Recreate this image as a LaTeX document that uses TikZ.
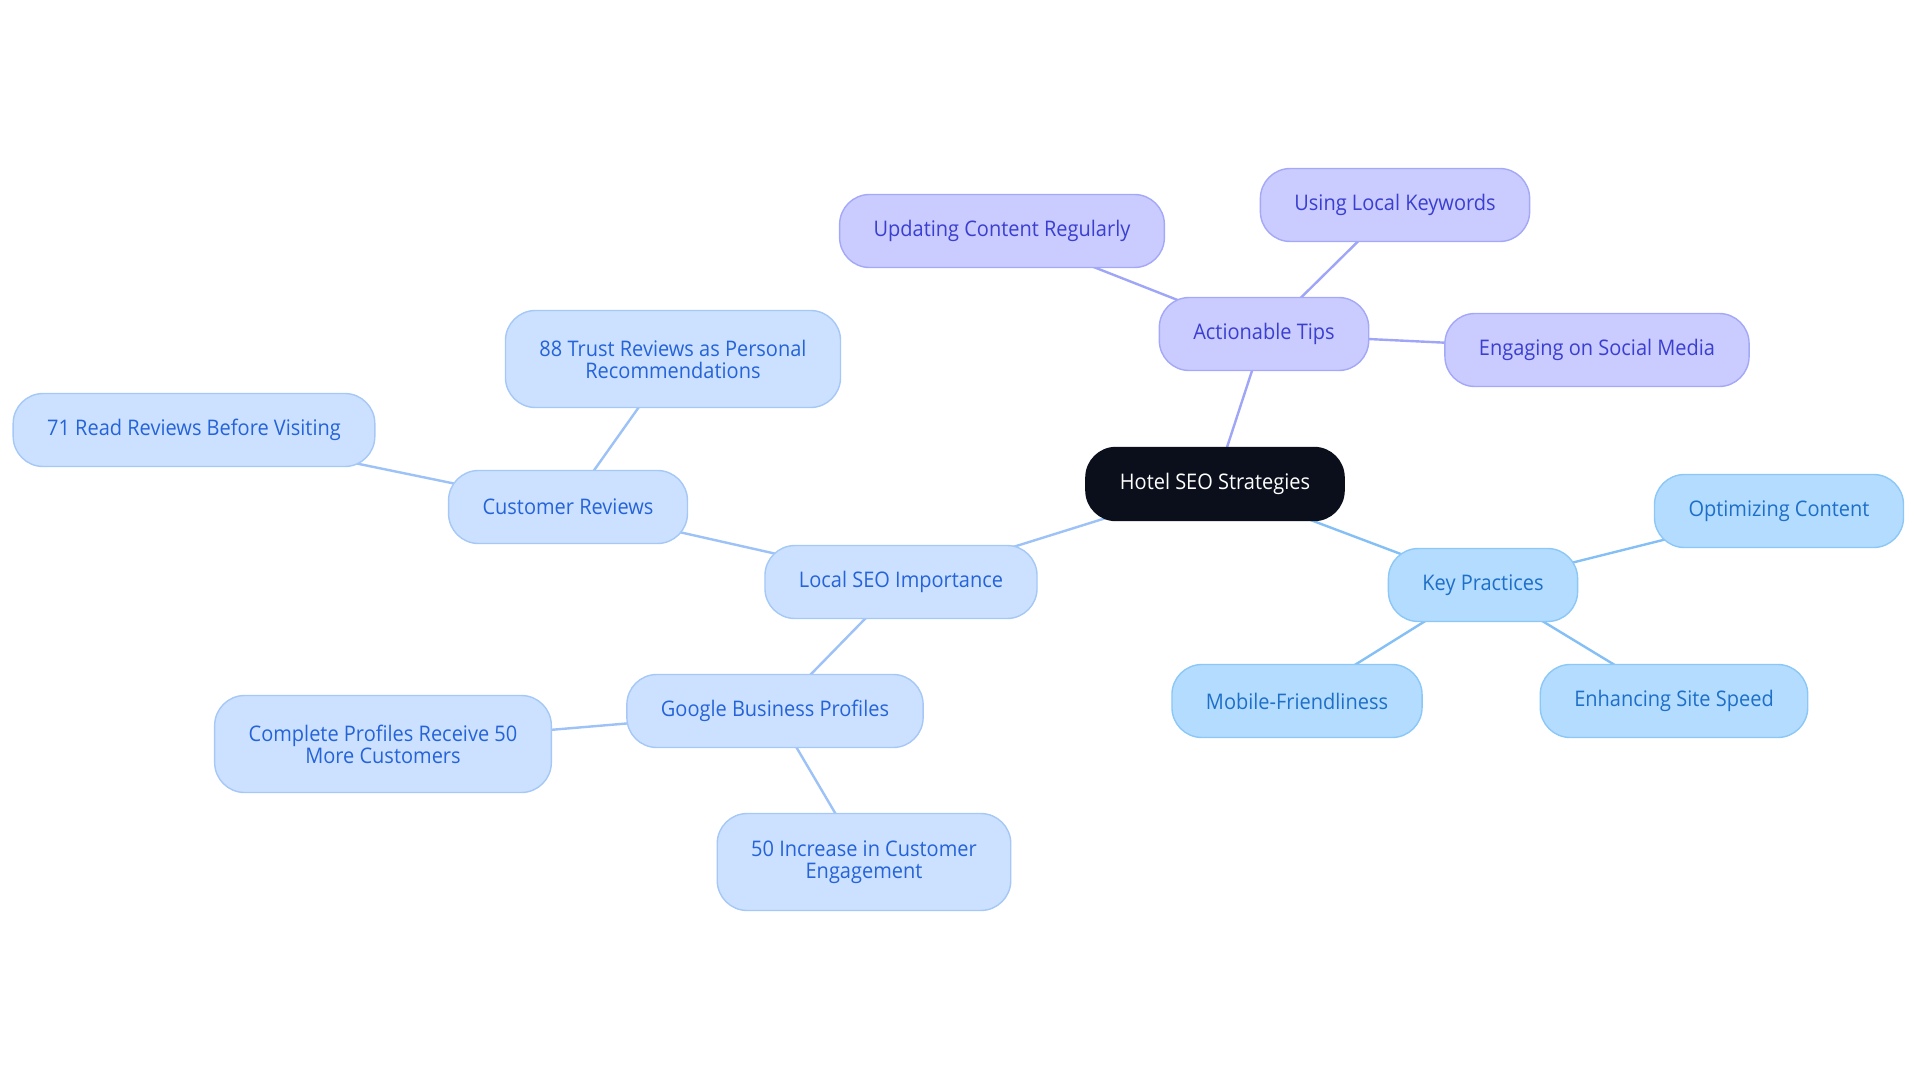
\documentclass[tikz,border=0pt]{standalone}
\usepackage{fontspec}
\setmainfont[FakeStretch=0.93]{Open Sans}
\pgfdeclarelayer{edges}
\pgfsetlayers{edges,main}
\begin{document}
\begin{tikzpicture}[x=1pt,y=-1pt,
  base/.style={rounded corners=30pt, line width=1.4pt, inner xsep=34pt, inner ysep=4pt,
    minimum height=73pt, align=center, font=\fontsize{21.5}{22}\selectfont},
  rootbox/.style={base, fill=rootfill, draw=rootfill, text=white},
  purplebox/.style={base, fill=pfill, draw=pdraw, text=ptext},
  keybox/.style={base, fill=kfill, draw=kdraw, text=ktext},
  lightbox/.style={base, fill=lfill, draw=ldraw, text=ltext},
  twoline/.style={minimum height=97pt},
  pedge/.style={draw=pedgec, line width=2.4pt},
  kedge/.style={draw=kedgec, line width=2.4pt},
  ledge/.style={draw=ledgec, line width=2.4pt}]
\definecolor{rootfill}{HTML}{0B0F1C}
\definecolor{pfill}{HTML}{CACBFE}
\definecolor{pdraw}{HTML}{A3A8F8}
\definecolor{ptext}{HTML}{3A3FD0}
\definecolor{pedgec}{HTML}{9FA5F7}
\definecolor{kfill}{HTML}{B3DCFF}
\definecolor{kdraw}{HTML}{8CC8F7}
\definecolor{ktext}{HTML}{1E6FC8}
\definecolor{kedgec}{HTML}{84C0F5}
\definecolor{lfill}{HTML}{CCE1FF}
\definecolor{ldraw}{HTML}{A5C8F7}
\definecolor{ltext}{HTML}{2563D8}
\definecolor{ledgec}{HTML}{9CC2F7}
\useasboundingbox (0,0) rectangle (1920,1083);

\node[rootbox] (root) at (1215,484) {Hotel SEO Strategies};

\node[purplebox] (tips) at (1264,334) {Actionable Tips};
\node[purplebox] (upd) at (1002,231) {Updating Content Regularly};
\node[purplebox] (kw) at (1395,205) {Using Local Keywords};
\node[purplebox] (soc) at (1597,350) {Engaging on Social Media};

\node[keybox] (key) at (1483,585) {Key Practices};
\node[keybox] (opt) at (1779,511) {Optimizing Content};
\node[keybox] (mob) at (1297,701) {Mobile-Friendliness};
\node[keybox] (spd) at (1674,701) {Enhancing Site Speed};

\node[lightbox] (loc) at (901,582) {Local SEO Importance};
\node[lightbox] (cr) at (568,507) {Customer Reviews};
\node[lightbox, twoline] (trust) at (673,359) {88 Trust Reviews as Personal\\Recommendations};
\node[lightbox] (read) at (194,430) {71 Read Reviews Before Visiting};
\node[lightbox] (gbp) at (775,711) {Google Business Profiles};
\node[lightbox, twoline] (comp) at (383,744) {Complete Profiles Receive 50\\More Customers};
\node[lightbox, twoline] (inc) at (864,862) {50 Increase in Customer\\Engagement};

\begin{pgfonlayer}{edges}
\fill[white] (0,0) rectangle (1920,1083);
\draw[pedge] (root.center) -- (tips.center);
\draw[pedge] (tips.center) -- (upd.center);
\draw[pedge] (tips.center) -- (kw.center);
\draw[pedge] (tips.center) -- (soc.center);
\draw[kedge] (root.center) -- (key.center);
\draw[kedge] (key.center) -- (opt.center);
\draw[kedge] (key.center) -- (mob.center);
\draw[kedge] (key.center) -- (spd.center);
\draw[ledge] (root.center) -- (loc.center);
\draw[ledge] (loc.center) -- (cr.center);
\draw[ledge] (loc.center) -- (gbp.center);
\draw[ledge] (cr.center) -- (trust.center);
\draw[ledge] (cr.center) -- (read.center);
\draw[ledge] (gbp.center) -- (comp.center);
\draw[ledge] (gbp.center) -- (inc.center);
\end{pgfonlayer}
\end{tikzpicture}
\end{document}
